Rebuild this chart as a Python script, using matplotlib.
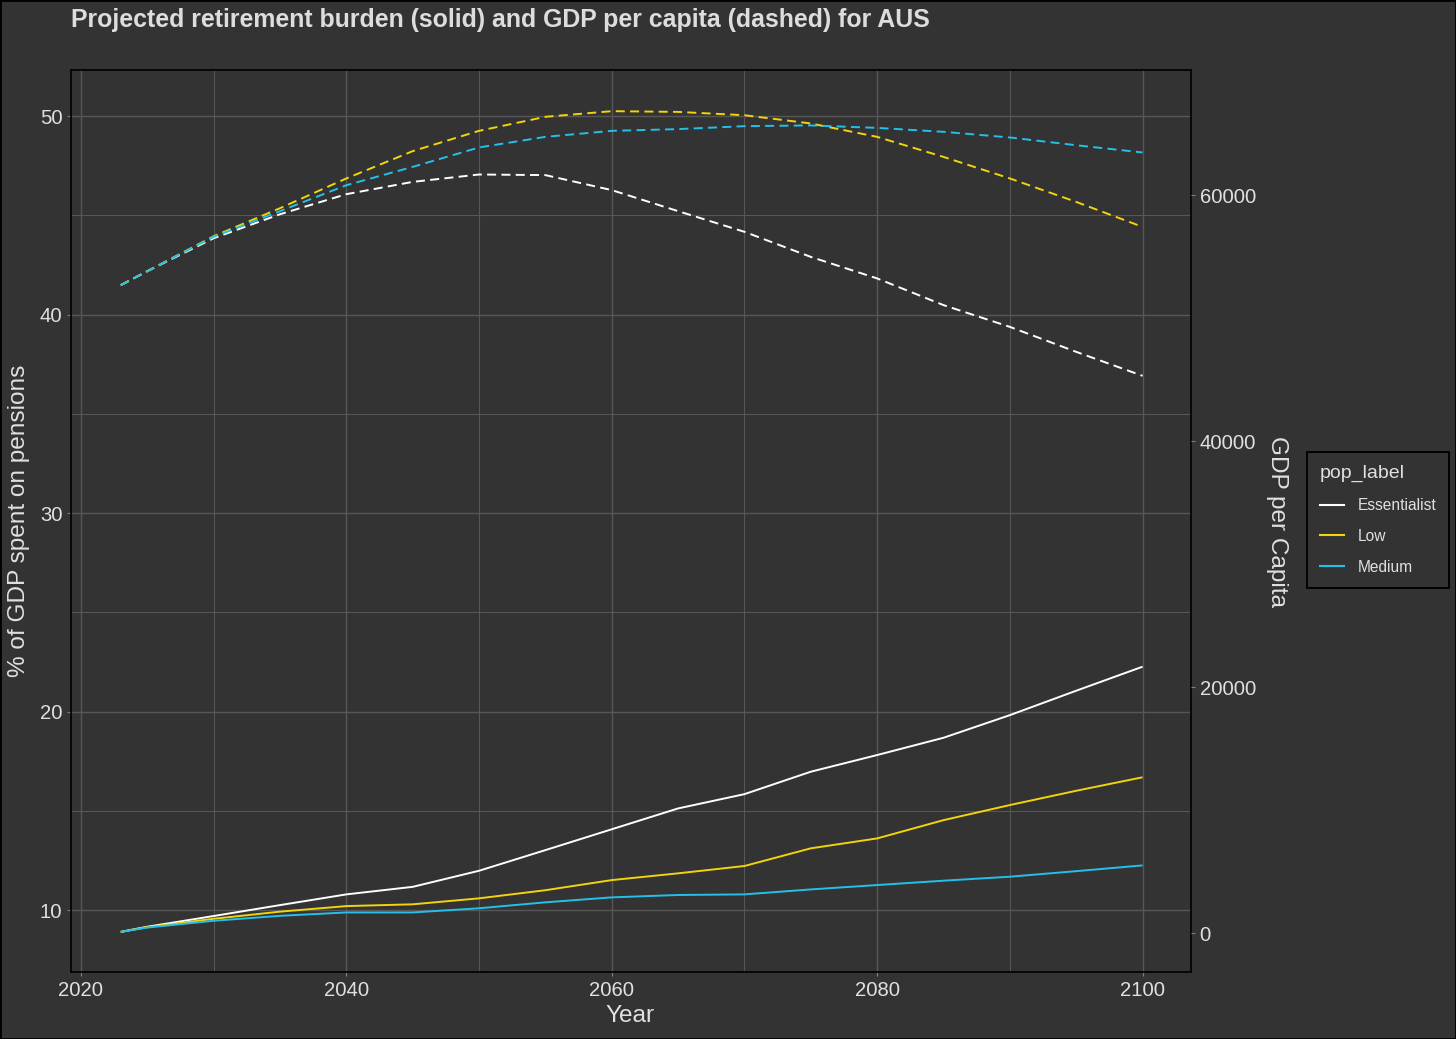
import matplotlib
matplotlib.use('Agg')
import matplotlib.pyplot as plt
from matplotlib.lines import Line2D
from matplotlib.patches import Rectangle

plt.rcParams['font.family'] = ['Liberation Sans', 'DejaVu Sans']
plt.rcParams['lines.scale_dashes'] = False

# ---------------- data ----------------
years = [2023, 2025, 2030, 2035, 2040, 2045, 2050, 2055, 2060, 2065,
         2070, 2075, 2080, 2085, 2090, 2095, 2100]
pop_labels = ["Essentialist", "Low", "Medium"]

burden_essentialist = [8.9, 9.16, 9.70, 10.25, 10.79, 11.17, 11.98, 13.02, 14.07, 15.12,
                       15.84, 16.97, 17.81, 18.68, 19.82, 21.05, 22.26]
burden_low = [8.9, 9.14, 9.56, 9.92, 10.20, 10.29, 10.59, 11.00, 11.51, 11.85,
              12.22, 13.11, 13.61, 14.53, 15.29, 16.01, 16.69]
burden_medium = [8.9, 9.12, 9.46, 9.71, 9.88, 9.88, 10.09, 10.39, 10.64, 10.76,
                 10.79, 11.04, 11.26, 11.48, 11.68, 11.96, 12.25]

gdp_essentialist = [52680, 53820, 56500, 58450, 60080, 61080, 61680, 61630, 60410, 58700,
                    57020, 54980, 53230, 51060, 49290, 47260, 45310]
gdp_low = [52680, 53820, 56660, 58940, 61360, 63580, 65230, 66370, 66830, 66770,
           66500, 65830, 64740, 63110, 61360, 59450, 57420]
gdp_medium = [52680, 53820, 56610, 58700, 60810, 62300, 63880, 64740, 65230, 65370,
              65610, 65670, 65470, 65150, 64690, 64060, 63470]

x_ticks = [2020, 2040, 2060, 2080, 2100]
y_ticks = [10, 20, 30, 40, 50]
gdp_ticks = [0, 20000, 40000, 60000]

# ---------------- style ----------------
BG = '#333333'
GRID = '#575757'
TXT = '#e0e0e0'
colors = {"Essentialist": "#ffffff", "Low": "#f2d40c", "Medium": "#23c0ea"}

W, H = 1456, 1039
fig = plt.figure(figsize=(W / 100, H / 100), dpi=100, facecolor=BG)
fig.patches.append(Rectangle((0, 0), 1, 1, transform=fig.transFigure, fill=False,
                             edgecolor='black', linewidth=2, zorder=10))

ax = fig.add_axes([71 / W, 1 - 972 / H, 1120 / W, 902 / H])
ax.set_facecolor(BG)
ax.set_xlim(2019.25, 2103.65)
ax.set_ylim(6.88, 52.32)

ax.set_xticks(x_ticks)
ax.set_xticks([2030, 2050, 2070, 2090], minor=True)
ax.set_yticks(y_ticks)
ax.set_yticks([15, 25, 35, 45], minor=True)
ax.grid(True, which='major', color=GRID, linewidth=1.0)
ax.grid(True, which='minor', color=GRID, linewidth=0.8)
ax.set_axisbelow(True)
ax.tick_params(which='major', colors='#808080', length=3, width=0.8,
               labelsize=14.6, labelcolor=TXT, pad=3.2)
ax.tick_params(which='minor', length=0)
for s in ax.spines.values():
    s.set_color('black')
    s.set_linewidth(1.2)

# GDP twin axis (linear map: 0 -> 8.84, 1614 per % unit)
ax2 = ax.twinx()
ax2.set_ylim((6.88 - 8.84) * 1614, (52.32 - 8.84) * 1614)
ax2.set_yticks(gdp_ticks)
ax2.set_yticklabels([str(t) for t in gdp_ticks])
ax2.tick_params(colors='#808080', length=3, width=0.8, labelsize=14.6,
                labelcolor=TXT, pad=3.2)
for s in ax2.spines.values():
    s.set_visible(False)
ax2.patch.set_visible(False)

series_burden = [burden_essentialist, burden_low, burden_medium]
series_gdp = [gdp_essentialist, gdp_low, gdp_medium]
for lab, b in zip(pop_labels, series_burden):
    ax.plot(years, b, color=colors[lab], linewidth=1.4, solid_capstyle='butt')
for lab, g in zip(pop_labels, series_gdp):
    ax2.plot(years, g, color=colors[lab], linewidth=1.4, linestyle=(0, (6.5, 3.8)),
             dash_capstyle='butt')

# texts
fig.text(71 / W, 1 - 20 / H, "Projected retirement burden (solid) and GDP per capita (dashed) for AUS",
         ha='left', va='center', fontsize=17.95, fontweight='bold', color='#dddddd')
fig.text(630 / W, 1 - 1016 / H, "Year", ha='center', va='center', fontsize=17.6, color=TXT)
fig.text(19 / W, 1 - 521 / H, "% of GDP spent on pensions", ha='center', va='center',
         rotation=90, fontsize=17.6, color=TXT)
fig.text(1277 / W, 1 - 522 / H, "GDP per Capita", ha='center', va='center',
         rotation=270, fontsize=17.6, color=TXT)

handles = [Line2D([], [], color=colors[l], linewidth=1.5) for l in pop_labels]
leg = fig.legend(handles, pop_labels, title='pop_label', loc='upper left',
                 bbox_to_anchor=(1307 / W, 1 - 452 / H), borderaxespad=0,
                 frameon=True, fancybox=False,
                 facecolor=BG, edgecolor='black', framealpha=1, fontsize=11.2,
                 title_fontsize=14, labelspacing=1.02, handlelength=1.55,
                 handletextpad=0.86, borderpad=0.83, alignment='left',
                 labelcolor=TXT)
leg.get_title().set_color(TXT)
leg.get_frame().set_linewidth(1.3)

fig.savefig('out.png', dpi=100, facecolor=BG)
